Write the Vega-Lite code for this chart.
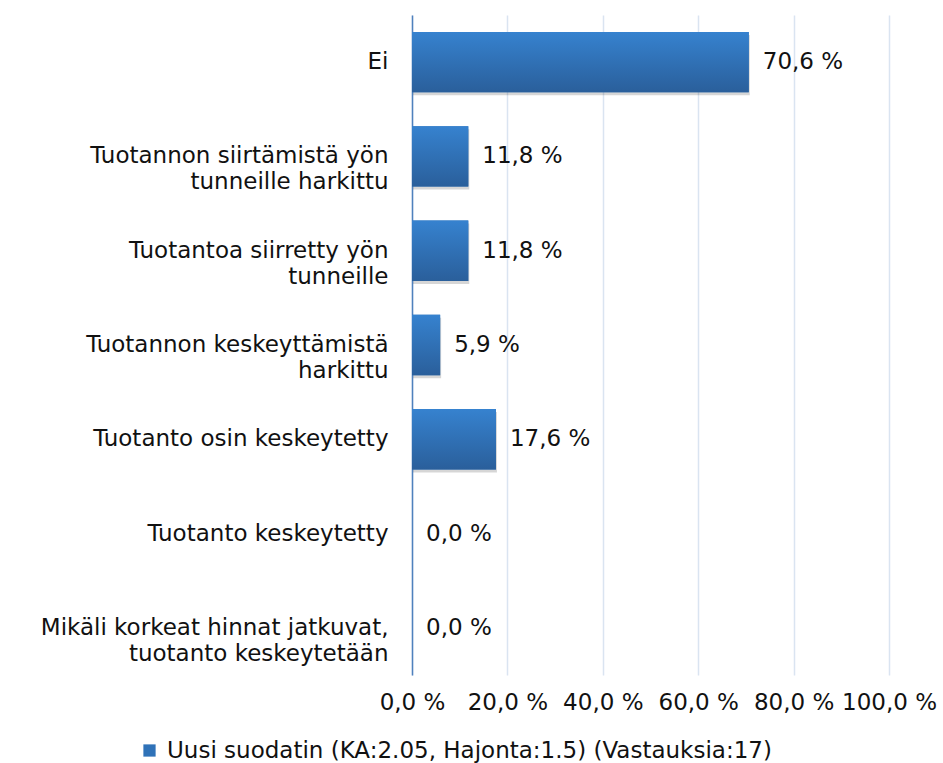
{
  "$schema": "https://vega.github.io/schema/vega-lite/v6.json",
  "autosize": "none",
  "width": 477,
  "height": 660,
  "padding": {"left": 412, "top": 15, "right": 54, "bottom": 88},
  "background": "white",
  "config": {
    "view": {"stroke": null},
    "font": "DejaVu Sans",
    "text": {"font": "DejaVu Sans"}
  },
  "data": {
    "values": [
      {"category": "Ei", "value": 70.6, "series": "Uusi suodatin (KA:2.05, Hajonta:1.5) (Vastauksia:17)"},
      {"category": "Tuotannon siirtämistä yön|tunneille harkittu", "value": 11.8, "series": "Uusi suodatin (KA:2.05, Hajonta:1.5) (Vastauksia:17)"},
      {"category": "Tuotantoa siirretty yön|tunneille", "value": 11.8, "series": "Uusi suodatin (KA:2.05, Hajonta:1.5) (Vastauksia:17)"},
      {"category": "Tuotannon keskeyttämistä|harkittu", "value": 5.9, "series": "Uusi suodatin (KA:2.05, Hajonta:1.5) (Vastauksia:17)"},
      {"category": "Tuotanto osin keskeytetty", "value": 17.6, "series": "Uusi suodatin (KA:2.05, Hajonta:1.5) (Vastauksia:17)"},
      {"category": "Tuotanto keskeytetty", "value": 0.0, "series": "Uusi suodatin (KA:2.05, Hajonta:1.5) (Vastauksia:17)"},
      {"category": "Mikäli korkeat hinnat jatkuvat,|tuotanto keskeytetään", "value": 0.0, "series": "Uusi suodatin (KA:2.05, Hajonta:1.5) (Vastauksia:17)"}
    ]
  },
  "transform": [
    {"calculate": "replace(format(datum.value, '.1f'), '.', ',') + ' %'", "as": "lbl"}
  ],
  "encoding": {
    "y": {
      "field": "category",
      "type": "nominal",
      "sort": null,
      "scale": {"paddingInner": 0.36, "paddingOuter": 0.18},
      "axis": {
        "title": null,
        "ticks": false,
        "domain": true,
        "domainColor": "#4F81BD",
        "domainWidth": 1.5,
        "labelExpr": "split(datum.label, '|')",
        "labelFont": "DejaVu Sans",
        "labelFontSize": 23,
        "labelColor": "#111111",
        "labelPadding": 24,
        "labelLimit": 420,
        "labelLineHeight": 26
      }
    },
    "x": {
      "field": "value",
      "type": "quantitative",
      "scale": {"domain": [0, 100], "nice": false},
      "axis": {
        "title": null,
        "values": [0, 20, 40, 60, 80, 100],
        "labelExpr": "replace(format(datum.value, '.1f'), '.', ',') + ' %'",
        "domain": false,
        "ticks": false,
        "grid": true,
        "gridColor": "#DAE4F1",
        "gridWidth": 1.5,
        "labelFont": "DejaVu Sans",
        "labelFontSize": 23,
        "labelColor": "#111111",
        "labelPadding": 16,
        "labelFlush": false,
        "labelOverlap": false
      }
    }
  },
  "layer": [
    {
      "mark": {"type": "bar", "color": "#000000", "opacity": 0.16, "yOffset": 3, "xOffset": 1},
      "encoding": {}
    },
    {
      "mark": {"type": "bar"},
      "encoding": {
        "color": {
          "field": "series",
          "type": "nominal",
          "scale": {"range": ["#2F72B8"]},
          "legend": {
            "title": null,
            "orient": "none",
            "legendX": -274,
            "legendY": 724,
            "symbolType": "square",
            "symbolSize": 150,
            "symbolStrokeWidth": 0,
            "labelFont": "DejaVu Sans",
            "labelFontSize": 23,
            "labelColor": "#111111",
            "labelLimit": 900,
            "labelOffset": 6
          }
        }
      }
    },
    {
      "mark": {
        "type": "bar",
        "fill": {
          "gradient": "linear",
          "x1": 0, "y1": 0, "x2": 0, "y2": 1,
          "stops": [
            {"offset": 0, "color": "#3682CF"},
            {"offset": 1, "color": "#2A5F9B"}
          ]
        }
      },
      "encoding": {}
    },
    {
      "mark": {"type": "text", "align": "left", "baseline": "middle", "dx": 14, "fontSize": 23, "font": "DejaVu Sans", "color": "#111111"},
      "encoding": {"text": {"field": "lbl"}}
    }
  ]
}
